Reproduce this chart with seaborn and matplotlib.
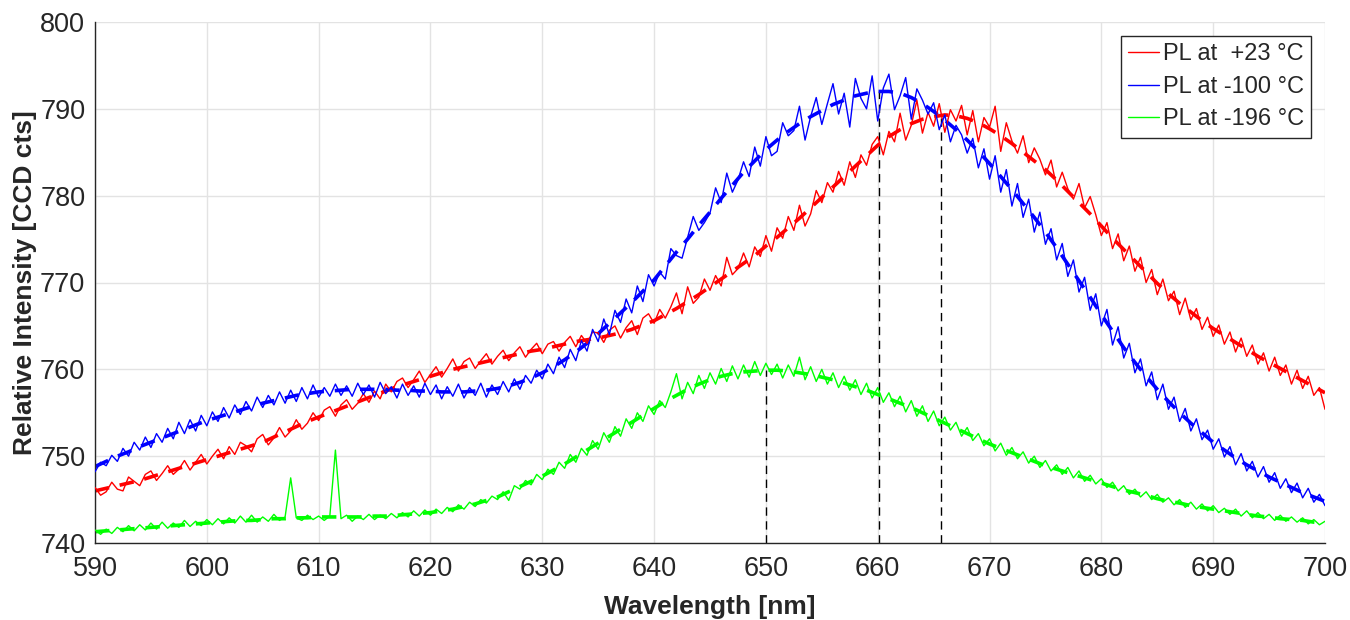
import numpy as np
import pandas as pd
import matplotlib
matplotlib.use("Agg")
import matplotlib.pyplot as plt
import seaborn as sns

# ---------------- data ----------------
wl_data = np.round(np.arange(590.0, 700.25, 0.5), 2)   # 0.5 nm sampling
wl_fit = np.arange(590, 701, 1)                        # 1 nm sampling of fits

pl_23 = [
    746.4, 745.5, 745.9, 747.0, 746.2, 746.0, 747.6, 747.1, 746.6, 747.9,
    748.3, 747.2, 748.0, 748.9, 747.9, 748.5, 749.5, 748.4, 749.3, 750.2,
    749.1, 750.0, 750.8, 749.7, 751.1, 750.2, 751.6, 751.2, 750.5, 752.0,
    752.5, 751.3, 752.1, 753.3, 752.2, 752.9, 754.2, 753.1, 753.8, 755.0,
    754.1, 755.3, 755.7, 754.6, 755.9, 756.5, 755.4, 756.1, 757.2, 756.2,
    757.5, 756.6, 758.3, 757.4, 758.6, 759.0, 757.9, 758.8, 759.8, 758.5,
    759.4, 760.3, 759.1, 760.1, 761.2, 759.8, 760.9, 761.3, 760.1, 761.0,
    761.8, 760.6, 761.5, 762.2, 761.0, 761.9, 762.6, 761.4, 762.3, 763.0,
    761.8, 762.9, 763.2, 762.1, 763.1, 763.8, 762.6, 763.9, 763.0, 764.3,
    764.2, 763.1, 764.5, 765.0, 763.6, 764.8, 765.6, 764.0, 765.9, 766.4,
    765.3, 766.9, 765.9, 767.2, 768.8, 766.4, 769.5, 767.6, 768.3, 770.4,
    769.1, 770.8, 769.6, 772.9, 770.9, 771.6, 773.4, 771.8, 774.1, 773.0,
    775.4, 773.6, 776.3, 775.1, 777.6, 776.0, 778.9, 776.5, 777.9, 780.6,
    779.2, 781.5, 780.4, 782.8, 781.2, 783.9, 782.1, 784.7, 783.5, 785.9,
    786.8, 784.7, 787.4, 786.2, 789.5, 786.4, 788.1, 791.0, 787.2, 789.6,
    788.0, 790.6, 787.3, 789.9, 788.6, 790.4, 787.0, 789.8, 786.2, 789.0,
    787.9, 790.3, 785.1, 788.4, 786.3, 784.9, 786.9, 783.8, 785.5, 784.2,
    782.4, 784.1, 781.0, 782.7, 780.8, 779.6, 781.4, 778.6, 779.9, 777.8,
    775.4, 776.9, 773.9, 775.6, 772.5, 774.2, 771.3, 772.9, 770.0, 771.5,
    768.6, 770.4, 767.9, 769.0, 766.3, 768.2, 765.7, 767.0, 764.6, 766.0,
    763.8, 765.1, 762.9, 764.3, 762.0, 763.6, 761.5, 762.8, 760.6, 761.9,
    759.8, 761.4, 759.3, 760.5, 758.3, 759.9, 757.8, 759.2, 757.0, 757.9,
    755.4,
]

pl_m100 = [
    748.2, 749.3, 748.9, 750.1, 749.4, 750.9, 750.0, 751.6, 750.7, 752.2,
    751.0, 752.6, 751.6, 753.2, 752.0, 753.9, 752.6, 754.2, 752.9, 754.7,
    753.5, 755.1, 754.0, 755.6, 754.4, 755.9, 754.8, 756.3, 755.2, 756.8,
    755.6, 757.0, 755.9, 757.4, 756.1, 757.6, 756.3, 757.9, 756.6, 758.2,
    756.8, 757.9, 756.9, 758.3, 757.0, 758.1, 756.9, 758.4, 757.1, 758.2,
    756.8, 758.5, 757.2, 758.0, 756.7, 758.3, 757.0, 758.1, 756.8, 758.4,
    757.1, 758.2, 756.6, 758.0, 756.9, 758.3, 756.7, 757.9, 757.0, 758.4,
    756.8, 758.2, 757.1, 758.6, 757.4, 758.9, 757.7, 759.3, 758.4, 759.9,
    758.9, 760.6, 759.5, 761.4, 760.2, 762.3, 761.0, 763.3, 762.1, 764.6,
    763.2, 765.8, 764.0, 766.8, 765.4, 768.1, 766.5, 769.6, 767.8, 770.9,
    769.6, 771.2, 770.4, 773.9, 773.1, 772.8, 775.2, 777.6, 776.0, 776.9,
    778.0, 780.9, 779.2, 782.6, 780.4, 781.8, 783.9, 782.2, 785.6, 783.4,
    786.8, 784.6, 785.1, 788.4, 786.9, 787.5, 790.3, 786.4, 789.1, 791.3,
    788.2, 790.6, 792.9, 789.4, 791.8, 787.9, 793.5, 791.2, 790.0, 793.8,
    788.6, 792.4, 794.0, 789.9, 791.5, 793.6, 788.8, 792.3, 791.0, 789.4,
    790.7, 787.6, 789.3, 786.2, 788.1, 787.0, 784.9, 786.6, 783.2, 785.4,
    781.9, 784.6, 780.4, 783.0, 778.8, 781.4, 777.5, 779.6, 775.8, 778.1,
    774.4, 776.2, 772.6, 774.5, 770.7, 772.6, 768.9, 770.6, 766.8, 768.7,
    765.0, 766.9, 762.8, 764.9, 761.3, 763.0, 759.6, 761.2, 758.1, 759.7,
    756.5, 758.3, 755.4, 756.8, 754.0, 755.5, 752.9, 754.3, 751.9, 753.0,
    750.8, 752.0, 749.9, 751.1, 749.0, 750.3, 748.3, 749.4, 747.6, 748.8,
    747.0, 748.1, 746.3, 747.4, 745.8, 746.9, 745.2, 746.3, 744.7, 745.6,
    744.3,
]

pl_m196 = [
    741.5, 741.0, 741.6, 741.1, 741.8, 741.3, 742.0, 741.4, 742.1, 741.5,
    742.3, 741.6, 742.4, 741.7, 742.3, 741.8, 742.6, 741.9, 742.5, 742.0,
    742.7, 742.1, 742.8, 742.2, 742.9, 742.3, 743.1, 742.4, 743.2, 742.4,
    743.0, 742.5, 743.3, 742.6, 743.0, 747.5, 742.9, 742.6, 743.2, 742.7,
    743.1, 742.6, 743.1, 750.7, 742.8, 743.2, 742.5, 743.1, 742.7, 743.3,
    742.7, 743.2, 742.8, 743.4, 742.9, 743.5, 743.0, 743.7, 743.1, 743.8,
    743.2, 743.9, 743.4, 744.1, 743.6, 744.4, 743.9, 744.7, 744.2, 745.0,
    744.6, 745.4, 745.0, 745.9, 744.9, 746.6, 746.2, 747.2, 746.7, 747.9,
    747.3, 748.5, 747.9, 749.3, 748.6, 750.2, 749.3, 750.9, 750.1, 751.8,
    750.8, 752.7, 751.6, 753.4, 752.3, 754.3, 753.2, 755.0, 754.0, 755.8,
    754.8, 756.4, 755.6, 757.4, 759.5, 756.6, 758.5, 757.2, 759.3, 757.8,
    759.6, 758.3, 760.1, 758.6, 760.4, 758.9, 760.5, 759.1, 760.9, 759.3,
    760.7, 759.4, 760.6, 759.0, 760.5, 759.2, 761.4, 758.8, 760.3, 758.6,
    760.0, 758.3, 759.6, 757.9, 759.2, 757.6, 758.8, 757.1, 758.4, 756.7,
    757.9, 756.2, 757.3, 755.7, 756.9, 755.1, 756.4, 754.6, 755.8, 754.0,
    755.2, 753.5, 754.5, 753.0, 753.9, 752.3, 753.3, 751.8, 752.6, 751.2,
    752.0, 750.6, 751.5, 750.1, 751.0, 749.7, 750.5, 749.2, 750.0, 748.7,
    749.5, 748.3, 749.0, 747.9, 748.7, 747.5, 748.3, 747.1, 747.8, 746.8,
    747.4, 746.4, 747.0, 746.0, 746.6, 745.6, 746.2, 745.3, 745.9, 745.0,
    745.6, 744.7, 745.2, 744.4, 745.0, 744.1, 744.7, 743.9, 744.5, 743.7,
    744.3, 743.5, 744.0, 743.3, 743.9, 743.1, 743.7, 742.9, 743.5, 742.8,
    743.3, 742.6, 743.2, 742.5, 743.0, 742.4, 742.9, 742.2, 742.7, 742.1,
    742.5,
]

fit_23 = [
    746.0, 746.3, 746.6, 746.9, 747.2, 747.6, 748.0, 748.4, 748.8, 749.2,
    749.6, 750.0, 750.4, 750.8, 751.2, 751.6, 752.2, 752.8, 753.4, 754.0,
    754.5, 755.0, 755.5, 756.0, 756.5, 757.0, 757.5, 758.0, 758.4, 758.8,
    759.2, 759.6, 760.0, 760.3, 760.6, 760.9, 761.2, 761.5, 761.8, 762.1,
    762.3, 762.6, 762.9, 763.2, 763.4, 763.6, 763.9, 764.2, 764.6, 765.1,
    765.6, 766.3, 767.0, 767.8, 768.6, 769.5, 770.4, 771.3, 772.2, 773.1,
    774.2, 775.2, 776.3, 777.4, 778.6, 779.8, 781.0, 782.2, 783.4, 784.6,
    785.8, 786.8, 787.6, 788.3, 788.8, 789.1, 789.3, 789.2, 788.9, 788.4,
    787.7, 786.9, 786.0, 785.0, 784.0, 783.0, 781.8, 780.5, 779.2, 777.9,
    776.5, 775.1, 773.8, 772.5, 771.2, 769.9, 768.7, 767.6, 766.6, 765.6,
    764.7, 763.9, 763.1, 762.3, 761.5, 760.8, 760.1, 759.4, 758.7, 758.0, 757.3,
]

fit_m100 = [
    748.8, 749.4, 750.0, 750.5, 751.1, 751.6, 752.1, 752.6, 753.1, 753.6,
    754.1, 754.5, 754.9, 755.3, 755.7, 756.1, 756.4, 756.7, 757.0, 757.2,
    757.4, 757.5, 757.6, 757.7, 757.7, 757.7, 757.7, 757.6, 757.6, 757.5,
    757.5, 757.4, 757.4, 757.4, 757.5, 757.6, 757.8, 758.1, 758.5, 759.0,
    759.6, 760.3, 761.1, 762.0, 763.0, 764.1, 765.3, 766.5, 767.7, 769.0,
    770.3, 771.9, 773.5, 775.0, 776.6, 778.1, 779.7, 781.2, 782.7, 784.0,
    785.3, 786.4, 787.4, 788.3, 789.1, 789.8, 790.5, 791.0, 791.5, 791.8,
    792.0, 792.0, 791.8, 791.3, 790.6, 789.7, 788.7, 787.6, 786.4, 785.1,
    783.7, 782.2, 780.7, 779.1, 777.5, 775.8, 774.0, 772.1, 770.2, 768.3,
    766.3, 764.4, 762.5, 760.8, 759.2, 757.7, 756.3, 755.0, 753.8, 752.7,
    751.6, 750.7, 749.8, 749.0, 748.3, 747.6, 747.0, 746.4, 745.8, 745.3, 744.8,
]

fit_m196 = [
    741.3, 741.4, 741.5, 741.6, 741.7, 741.8, 741.9, 742.0, 742.1, 742.2,
    742.3, 742.4, 742.5, 742.6, 742.6, 742.7, 742.8, 742.8, 742.9, 742.9,
    743.0, 743.0, 743.0, 743.0, 743.0, 743.1, 743.1, 743.2, 743.3, 743.4,
    743.5, 743.7, 743.9, 744.2, 744.5, 744.9, 745.3, 745.9, 746.5, 747.1,
    747.7, 748.4, 749.1, 749.9, 750.7, 751.5, 752.3, 753.1, 753.9, 754.7,
    755.5, 756.3, 757.0, 757.7, 758.3, 758.8, 759.2, 759.5, 759.7, 759.8,
    759.9, 759.9, 759.8, 759.6, 759.4, 759.1, 758.8, 758.4, 758.0, 757.6,
    757.1, 756.6, 756.1, 755.6, 755.0, 754.4, 753.8, 753.2, 752.6, 752.0,
    751.4, 750.9, 750.4, 749.9, 749.4, 748.9, 748.5, 748.1, 747.7, 747.3,
    746.9, 746.5, 746.1, 745.8, 745.5, 745.1, 744.8, 744.6, 744.3, 744.1,
    743.9, 743.7, 743.5, 743.3, 743.1, 743.0, 742.8, 742.7, 742.6, 742.4, 742.3,
]

labels = ["PL at  +23 °C", "PL at -100 °C", "PL at -196 °C"]
colors = ["#ff0000", "#0000ff", "#00ff00"]

# peak markers (dashed verticals)
peak_wl = [650.0, 660.1, 665.7]
peak_int = [759.9, 792.0, 789.3]
baseline = 740

x_ticks = list(range(590, 701, 10))
y_ticks = list(range(740, 801, 10))

# ---------------- plotting ----------------
sns.set_theme(style="whitegrid")
plt.rcParams["font.family"] = ["Liberation Sans", "DejaVu Sans"]

fig = plt.figure(figsize=(13.5, 6.2), dpi=100)
ax = fig.add_axes([95 / 1350, 1 - 543 / 620, 1230 / 1350, 521 / 620])

# dashed peak lines (below the data)
for xw, yp in zip(peak_wl, peak_int):
    ax.plot([xw, xw], [baseline, yp], color="black", lw=1.0,
            ls=(0, (6, 4)), zorder=1)

datas = [pl_23, pl_m100, pl_m196]
fits = [fit_23, fit_m100, fit_m196]
for d, f, lab, c in zip(datas, fits, labels, colors):
    sns.lineplot(x=wl_fit, y=f, ax=ax, color=c, lw=2.6,
                 linestyle=(0, (4, 3)), label="_nolegend_", zorder=2)
    sns.lineplot(x=wl_data, y=d, ax=ax, color=c, lw=1.0, label=lab, zorder=3)

ax.set_xlim(590, 700)
ax.set_ylim(740, 800)
ax.set_xticks(x_ticks)
ax.set_yticks(y_ticks)
ax.tick_params(axis="x", labelsize=19.5, colors="#262626", direction="in",
               length=8, width=1.0, pad=9)
ax.tick_params(axis="y", labelsize=19.5, colors="#262626", direction="in",
               length=8, width=1.0, pad=7)
ax.grid(True, color="#e3e3e3", lw=1.0)
ax.set_facecolor("white")

for side in ["top", "right"]:
    ax.spines[side].set_visible(False)
for side in ["left", "bottom"]:
    ax.spines[side].set_visible(True)
    ax.spines[side].set_color("#262626")
    ax.spines[side].set_linewidth(1.0)

ax.set_xlabel("Wavelength [nm]", fontsize=19, fontweight="bold",
              color="#262626", labelpad=10)
ax.set_ylabel("Relative Intensity [CCD cts]", fontsize=19, fontweight="bold",
              color="#262626", labelpad=2)

leg = ax.legend(loc="upper right", fontsize=17, frameon=True, fancybox=False,
                edgecolor="#262626", framealpha=1, handlelength=1.3,
                handletextpad=0.15, borderpad=0.3, labelspacing=0.45,
                borderaxespad=0.6)
leg.get_frame().set_linewidth(1.0)

fig.savefig("out.png", dpi=100, facecolor="white")
